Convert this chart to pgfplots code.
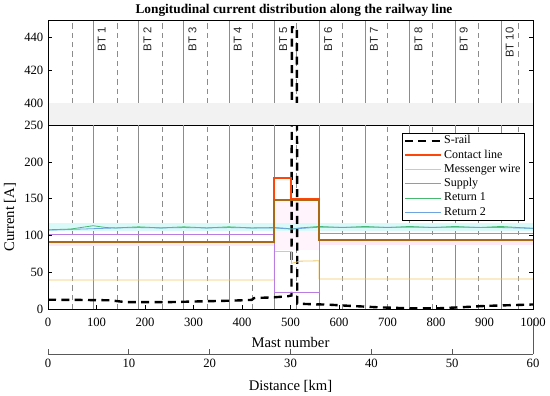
\documentclass[border=0pt]{standalone}
\usepackage{fontspec}
\setmainfont{Liberation Serif}
\newfontfamily\sansf{Liberation Sans}
\usepackage{pgfplots}
\pgfplotsset{compat=1.18}
\definecolor{contact}{RGB}{255,70,10}
\definecolor{messenger}{RGB}{240,200,100}
\definecolor{supply}{RGB}{185,125,225}
\definecolor{retone}{RGB}{70,185,110}
\definecolor{rettwo}{RGB}{110,165,225}
\definecolor{oliveline}{RGB}{170,105,20}
\definecolor{pinkband}{RGB}{255,232,246}
\definecolor{pinklight}{RGB}{255,244,251}
\definecolor{cyanband}{RGB}{218,250,250}
\definecolor{bandgray}{RGB}{242,242,242}
\definecolor{vline}{RGB}{140,140,140}
\tikzset{
  solidv/.style={vline, line width=0.6pt},
  dashv/.style={vline, line width=0.5pt, dash pattern=on 4pt off 3pt},
}
\pgfplotsset{
  base/.style={width=363.75pt, scale only axis, xmin=0, xmax=1000,
    tick align=inside, major tick length=3pt,
    /pgf/number format/assume math mode=true,
    /pgf/number format/1000 sep={},
    ticklabel style={font=\fontsize{9.5}{11}\selectfont},
    axis line style={black, line width=0.5pt},
    tick style={black, line width=0.5pt}},
}
\begin{document}
\begin{tikzpicture}
\useasboundingbox (-36pt,-64.875pt) rectangle (376.5pt,232.125pt);
% ---------- lower axis ----------
\begin{axis}[base, at={(0pt,0pt)}, anchor=south west, height=138.4pt,
  ymin=0, ymax=250, ytick={0,50,...,250}, xtick={0,100,...,1000},
  xtick pos=bottom, ytick pos=both,
  xticklabel style={yshift=-3pt},
  xlabel={Mast number},
  xlabel style={at={(rel axis cs:0.5,0)}, anchor=center, yshift=-24.4pt, font=\fontsize{11}{13}\selectfont},
  legend style={at={(rel axis cs:0.9815,0.9566)}, anchor=north east,
    font=\fontsize{9}{11}\selectfont, draw=black, line width=0.4pt,
    inner xsep=1pt, inner ysep=0.5pt, row sep=0pt,
    nodes={inner sep=1.5pt, text height=6pt, text depth=1.7pt}},
  legend cell align=left,
  legend image code/.code={\draw[#1] (0pt,0pt) -- (27pt,0pt);},
]
\pgfplotsinvokeforeach{93,187,280,373,467,560,654,746,839,934}{
  \draw[solidv] (axis cs:#1,0) -- (axis cs:#1,250);}
\pgfplotsinvokeforeach{49.5,142,235,328,421,513,606,699,792,887,969}{
  \draw[dashv] (axis cs:#1,0) -- (axis cs:#1,250);}
% shaded bands
\addplot[draw=none, fill=pinklight, forget plot] coordinates {
  (466.6,80) (559,80) (559,148) (466.6,148)} -- cycle;
\addplot[draw=none, fill=cyanband, forget plot] coordinates {
  (0,106.5) (1000,106.5) (1000,117) (0,117)} -- cycle;
\addplot[draw=none, fill=pinkband, forget plot] coordinates {
  (0,86) (466.6,86) (466.6,91.5) (0,91.5)} -- cycle;
\addplot[draw=none, fill=pinkband, forget plot] coordinates {
  (559,87.5) (1000,87.5) (1000,93.5) (559,93.5)} -- cycle;
% S-rail
\addplot[black, line width=1.8pt, dash pattern=on 6pt off 4pt] coordinates {
  (0,13.2) (60,13) (127,12.5) (160,10) (250,10) (300,10.8) (380,12)
  (420,13) (425,15.5) (466,16.5) (495,18) (502,19) (503,446) (513,446)
  (514,8) (530,7.5) (580,6.5) (620,5) (680,3) (750,1.5) (800,1.5)
  (850,3) (900,4.8) (960,6) (1000,6.8)};
\addlegendentry{S-rail}
% Contact line
\addplot[contact, line width=1.5pt] coordinates {
  (0,91.5) (466.6,91.5) (466.6,178) (502,178) (502,150) (559,150)
  (559,93.5) (1000,93.5)};
\addlegendentry{Contact line}
% Messenger wire
\addplot[messenger, line width=0.6pt] coordinates {
  (0,40) (466.6,40) (466.6,78.5) (502,78.5) (502,62.5) (520,65.5)
  (559,66) (559,41.3) (1000,41.3)};
\addlegendentry{Messenger wire}
% Supply
\addplot[supply, line width=0.7pt] coordinates {
  (0,101.5) (466.6,101.5) (466.6,23) (559,23) (559,103.3) (1000,103.3)};
\addlegendentry{Supply}
% Return 1
\addplot[retone, line width=0.6pt] coordinates {
  (0,108) (47,109) (93,113.5) (120,111) (140,110.5) (187,112) (233,110.5)
  (280,112) (327,110.5) (373,112) (420,110.5) (466,111) (490,110)
  (502,109) (520,110.5) (559,112.5) (607,111) (654,112.5) (700,111)
  (746,112.5) (793,111) (839,112.5) (887,111) (934,112.5) (970,111)
  (1000,110)};
\addlegendentry{Return 1}
% Return 2
\addplot[rettwo, line width=0.6pt] coordinates {
  (0,107.5) (47,108.5) (93,109.5) (140,110.5) (187,111) (233,110.5)
  (280,111) (327,110.5) (373,111) (420,110.5) (466,110.5) (502,109)
  (559,111.5) (654,111.5) (746,111.5) (839,111.5) (934,111) (1000,110)};
\addlegendentry{Return 2}
% olive overlay line (not in legend)
\addplot[oliveline, line width=1.5pt, forget plot] coordinates {
  (0,91.5) (466.6,91.5) (466.6,148.5) (559,148.5) (559,93.5) (1000,93.5)};
\end{axis}
% ---------- upper axis ----------
\begin{axis}[base, at={(0pt,154.65pt)}, anchor=south west, height=61.95pt,
  ymin=400, ymax=450, ytick={400,420,440}, xtick=\empty, ytick pos=both]
\pgfplotsinvokeforeach{93,187,280,373,467,560,654,746,839,934}{
  \draw[solidv] (axis cs:#1,400) -- (axis cs:#1,450);}
\pgfplotsinvokeforeach{49.5,142,235,328,421,513,606,699,792,887,969}{
  \draw[dashv] (axis cs:#1,400) -- (axis cs:#1,450);}
\addplot[black, line width=1.8pt, dash pattern=on 6pt off 4pt] coordinates {
  (0,13.2) (60,13) (127,12.5) (160,10) (250,10) (300,10.8) (380,12)
  (420,13) (425,15.5) (466,16.5) (495,18) (502,19) (503,446) (513,446)
  (514,8) (530,7.5) (580,6.5) (620,5) (680,3) (750,1.5) (800,1.5)
  (850,3) (900,4.8) (960,6) (1000,6.8)};
\begin{scope}[every node/.style={rotate=90, anchor=east, inner sep=0pt,
    font=\sansf\fontsize{8.5}{10}\selectfont, text=black!85}]
\node at (axis cs:111,446) {BT 1};
\node at (axis cs:205,446) {BT 2};
\node at (axis cs:298,446) {BT 3};
\node at (axis cs:391,446) {BT 4};
\node at (axis cs:485,446) {BT 5};
\node at (axis cs:578,446) {BT 6};
\node at (axis cs:672,446) {BT 7};
\node at (axis cs:764,446) {BT 8};
\node at (axis cs:857,446) {BT 9};
\node at (axis cs:952,446) {BT 10};
\end{scope}
\end{axis}
% ---------- break band ----------
\fill[bandgray] (0pt,138.4pt) rectangle (363.75pt,154.65pt);
\draw[black, line width=0.5pt] (0pt,0pt) -- (0pt,216.6pt);
\draw[black, line width=0.5pt] (363.75pt,0pt) -- (363.75pt,216.6pt);
% ---------- y label and title ----------
\node[rotate=90, font=\fontsize{11}{13}\selectfont] at (-28.5pt,69.2pt) {Current [A]};
\node[font=\fontsize{10}{12}\selectfont\bfseries] at (184.5pt,224.6pt)
  {Longitudinal current distribution along the railway line};
% ---------- distance axis ----------
\begin{axis}[at={(0pt,-33.4pt)}, anchor=south west, width=363.75pt,
  height=10pt, scale only axis, xmin=0, xmax=60, ymin=0, ymax=1,
  axis x line*=bottom, hide y axis, xtick={0,10,...,60},
  tick align=inside, major tick length=3.5pt,
  /pgf/number format/assume math mode=true,
  ticklabel style={font=\fontsize{9.5}{11}\selectfont},
  axis line style={black!65, line width=0.5pt},
  tick style={black!65, line width=0.5pt},
  xlabel={Distance [km]},
  xlabel style={at={(rel axis cs:0.5,0)}, anchor=center, yshift=-24.5pt, font=\fontsize{11}{13}\selectfont}]
\end{axis}
\draw[black!65, line width=0.5pt] (363.75pt,-33.4pt) -- (363.75pt,-7.1pt);
\end{tikzpicture}
\end{document}
